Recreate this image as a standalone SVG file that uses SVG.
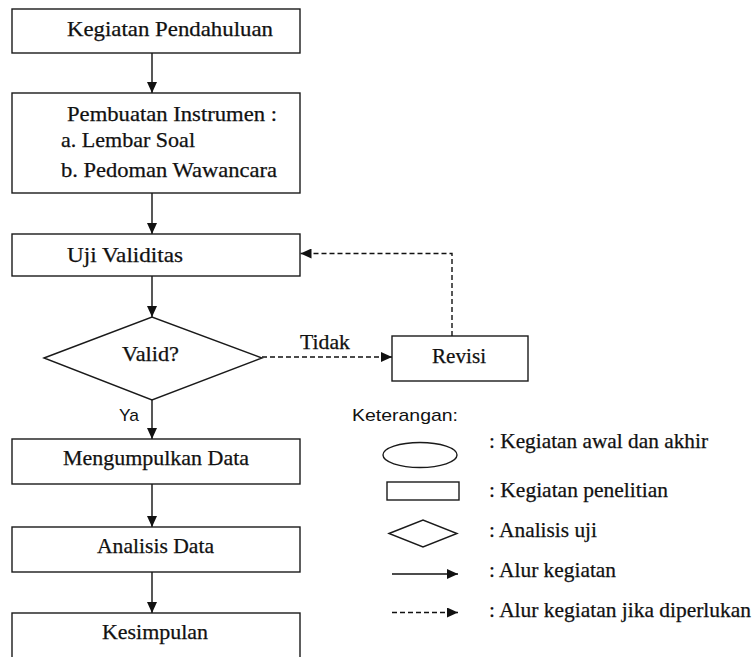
<svg xmlns="http://www.w3.org/2000/svg" width="753" height="657" viewBox="0 0 753 657">
<style>
.box{fill:#fff;stroke:#1a1a1a;stroke-width:1.4}
.t{font-family:"Liberation Serif","Times New Roman",serif;font-size:21px;fill:#111;stroke:#111;stroke-width:0.25}
.s{font-family:"Liberation Sans",Arial,sans-serif;font-size:17px;fill:#111}
.ln{fill:none;stroke:#111;stroke-width:1.4}
.dash{stroke-dasharray:5,3}
</style>
<defs>
<marker id="ah" markerUnits="userSpaceOnUse" markerWidth="11" markerHeight="10" refX="11" refY="5" orient="auto">
<path d="M0,0 L11,5 L0,10 z" fill="#111"/>
</marker>
</defs>
<rect width="753" height="657" fill="#fff"/>
<g id="connectors">
<line class="ln" x1="152" y1="53" x2="152" y2="93" marker-end="url(#ah)"/>
<line class="ln" x1="152" y1="193" x2="152" y2="234" marker-end="url(#ah)"/>
<line class="ln" x1="152" y1="276" x2="152" y2="317" marker-end="url(#ah)"/>
<line class="ln" x1="152" y1="400" x2="152" y2="439" marker-end="url(#ah)"/>
<line class="ln" x1="152" y1="484" x2="152" y2="527" marker-end="url(#ah)"/>
<line class="ln" x1="152" y1="572" x2="152" y2="613" marker-end="url(#ah)"/>
<line class="ln dash" x1="262" y1="357" x2="392" y2="357" marker-end="url(#ah)"/>
<polyline class="ln dash" points="452,336 452,253.5 300.5,253.5" marker-end="url(#ah)"/>
<text class="t" x="300" y="349" textLength="50" lengthAdjust="spacingAndGlyphs">Tidak</text>
<text class="s" x="119" y="420.5" textLength="20" lengthAdjust="spacingAndGlyphs">Ya</text>
</g>
<g id="n1">
<rect class="box" x="12" y="9" width="288" height="44"/>
<text class="t" x="67" y="36" textLength="206" lengthAdjust="spacingAndGlyphs">Kegiatan Pendahuluan</text>
</g>
<g id="n2">
<rect class="box" x="12" y="93" width="288" height="100"/>
<text class="t" x="67" y="120.5" textLength="210" lengthAdjust="spacingAndGlyphs">Pembuatan Instrumen :</text>
<text class="t" x="61" y="146.5" textLength="134" lengthAdjust="spacingAndGlyphs">a. Lembar Soal</text>
<text class="t" x="61" y="176.5" textLength="216" lengthAdjust="spacingAndGlyphs">b. Pedoman Wawancara</text>
</g>
<g id="n3">
<rect class="box" x="12" y="234" width="288" height="42"/>
<text class="t" x="67" y="262" textLength="116" lengthAdjust="spacingAndGlyphs">Uji Validitas</text>
</g>
<g id="n4">
<polygon class="box" points="44,358 152,317 262,358 152,400"/>
<text class="t" x="122" y="361" textLength="57" lengthAdjust="spacingAndGlyphs">Valid?</text>
</g>
<g id="n5">
<rect class="box" x="392" y="336" width="136" height="45"/>
<text class="t" x="432" y="362.5" textLength="54" lengthAdjust="spacingAndGlyphs">Revisi</text>
</g>
<g id="n6">
<rect class="box" x="12" y="439" width="288" height="45"/>
<text class="t" x="63" y="465" textLength="186" lengthAdjust="spacingAndGlyphs">Mengumpulkan Data</text>
</g>
<g id="n7">
<rect class="box" x="12" y="527" width="288" height="45"/>
<text class="t" x="97" y="553" textLength="117" lengthAdjust="spacingAndGlyphs">Analisis Data</text>
</g>
<g id="n8">
<rect class="box" x="12" y="613" width="288" height="52"/>
<text class="t" x="102" y="639" textLength="106" lengthAdjust="spacingAndGlyphs">Kesimpulan</text>
</g>
<g id="legend">
<text class="s" x="352" y="420.5" textLength="106" lengthAdjust="spacingAndGlyphs">Keterangan:</text>
<ellipse class="box" cx="420" cy="455" rx="37" ry="12.5"/>
<text class="t" x="489" y="448" textLength="219" lengthAdjust="spacingAndGlyphs">: Kegiatan awal dan akhir</text>
<rect class="box" x="387" y="482" width="72" height="18"/>
<text class="t" x="489" y="496.5" textLength="179" lengthAdjust="spacingAndGlyphs">: Kegiatan penelitian</text>
<polygon class="box" points="389,533.5 423,520 457,533.5 423,547"/>
<text class="t" x="489" y="536.5" textLength="108" lengthAdjust="spacingAndGlyphs">: Analisis uji</text>
<line class="ln" x1="392" y1="574" x2="458" y2="574" marker-end="url(#ah)"/>
<text class="t" x="489" y="576.5" textLength="127" lengthAdjust="spacingAndGlyphs">: Alur kegiatan</text>
<line class="ln dash" x1="392" y1="612.5" x2="458" y2="612.5" marker-end="url(#ah)"/>
<text class="t" x="489" y="616.5" textLength="262" lengthAdjust="spacingAndGlyphs">: Alur kegiatan jika diperlukan</text>
</g>
</svg>
